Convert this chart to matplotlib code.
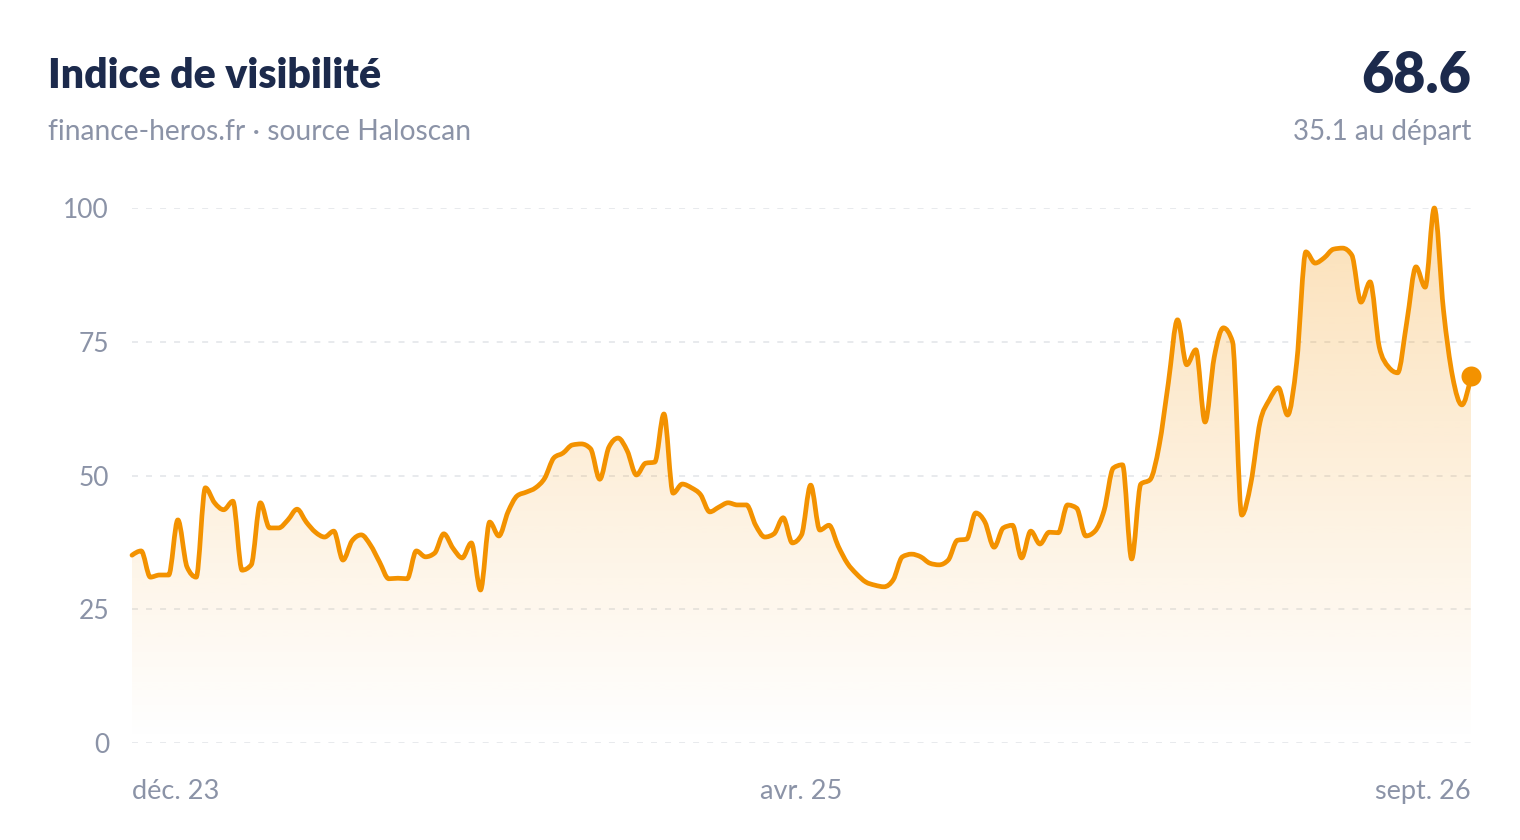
import numpy as np
import pandas as pd
import matplotlib
matplotlib.use("Agg")
import matplotlib.pyplot as plt
import matplotlib.dates as mdates
from matplotlib.path import Path
from matplotlib.patches import PathPatch
from matplotlib.colors import to_rgb

# ── Data: weekly visibility index ────────────────────────────────────────────
start_date = "2023-12-04"
visibility = [
    35.1, 35.9, 31.0, 31.4, 31.4, 41.7, 32.9, 31.0, 47.7, 44.9,
    43.6, 45.2, 32.3, 33.3, 44.9, 40.2, 40.2, 41.7, 43.7, 41.3,
    39.4, 38.5, 39.6, 34.2, 37.8, 38.9, 37.0, 33.8, 30.7, 30.8,
    30.7, 35.9, 34.8, 35.5, 39.1, 36.4, 34.6, 37.4, 28.6, 41.3,
    38.7, 43.2, 46.2, 46.9, 47.7, 49.5, 53.3, 54.2, 55.7, 55.9,
    55.0, 49.3, 55.3, 57.0, 54.6, 50.1, 52.3, 52.5, 61.5, 46.7,
    48.4, 47.7, 46.4, 43.2, 44.1, 44.9, 44.5, 44.5, 40.7, 38.5,
    39.1, 42.1, 37.4, 38.9, 48.2, 39.8, 40.7, 36.8, 33.6, 31.6,
    30.1, 29.5, 29.2, 30.5, 34.8, 35.3, 34.8, 33.6, 33.3, 34.2,
    37.9, 38.1, 43.0, 41.3, 36.6, 40.2, 40.7, 34.6, 39.6, 37.2,
    39.4, 39.3, 44.5, 43.9, 38.7, 39.6, 43.5, 51.4, 52.0, 34.4,
    48.4, 49.2, 55.6, 67.3, 79.1, 70.7, 73.5, 60.0, 72.1, 77.6,
    75.0, 42.6, 48.6, 60.0, 64.1, 66.4, 61.3, 71.2, 91.8, 89.7,
    90.7, 92.3, 92.5, 91.2, 82.4, 86.2, 74.0, 70.3, 69.2, 78.7,
    89.0, 85.2, 100.0, 80.9, 68.4, 63.2, 68.6,
]
y_ticks = [0, 25, 50, 75, 100]
labelled_weeks = [0, 73, 146]   # first, middle and last week get a date label
month_abbr = ["janv.", "févr.", "mars", "avr.", "mai", "juin",
              "juil.", "août", "sept.", "oct.", "nov.", "déc."]

ORANGE = "#F39200"
NAVY = "#1C2A4C"
GREY = "#8B93A7"
GRID = "#E4E6EA"

plt.rcParams["font.family"] = ["Lato", "DejaVu Sans"]
plt.rcParams["lines.scale_dashes"] = False


def monotone_tangents(x, y):
    # same tangents as d3.curveMonotoneX (Steffen), so the curve never overshoots
    h = np.diff(x)
    s = np.diff(y) / h
    t = np.zeros_like(y)
    for i in range(1, len(y) - 1):
        p = (s[i - 1] * h[i] + s[i] * h[i - 1]) / (h[i - 1] + h[i])
        t[i] = (np.sign(s[i - 1]) + np.sign(s[i])) * min(abs(s[i - 1]), abs(s[i]), 0.5 * abs(p))
    t[0] = (3 * s[0] - t[1]) / 2
    t[-1] = (3 * s[-1] - t[-2]) / 2
    return t


def smooth_path(x, y):
    t = monotone_tangents(x, y)
    verts = [(x[0], y[0])]
    codes = [Path.MOVETO]
    for i in range(len(x) - 1):
        dx = (x[i + 1] - x[i]) / 3
        verts += [(x[i] + dx, y[i] + dx * t[i]),
                  (x[i + 1] - dx, y[i + 1] - dx * t[i + 1]),
                  (x[i + 1], y[i + 1])]
        codes += [Path.CURVE4] * 3
    return verts, codes


dates = pd.date_range(start_date, periods=len(visibility), freq="7D")
x = mdates.date2num(dates)
y = np.array(visibility, dtype=float)

fig = plt.figure(figsize=(15.2, 8.4), dpi=100, facecolor="white")
ax = fig.add_axes([132 / 1520, 97 / 840, 1339 / 1520, 535 / 840])

verts, codes = smooth_path(x, y)

# ── Gradient fill under the curve ────────────────────────────────────────────
fill_path = Path(verts + [(x[-1], 0), (x[0], 0), (x[0], 0)],
                 codes + [Path.LINETO, Path.LINETO, Path.CLOSEPOLY])
fill_patch = PathPatch(fill_path, facecolor="none", edgecolor="none")
ax.add_patch(fill_patch)

grad = np.zeros((256, 1, 4))
grad[..., :3] = to_rgb(ORANGE)
grad[..., 3] = np.linspace(0.0, 0.28, 256)[:, None]
im = ax.imshow(grad, extent=[x[0], x[-1], 0, 100], origin="lower",
               aspect="auto", interpolation="bilinear", zorder=1)
im.set_clip_path(fill_patch)

# ── Line and end dot ─────────────────────────────────────────────────────────
line = PathPatch(Path(verts, codes), facecolor="none", edgecolor=ORANGE,
                 lw=3.4, capstyle="round", joinstyle="round", zorder=3, clip_on=False)
ax.add_patch(line)
ax.plot(x[-1], y[-1], "o", ms=14.4, color=ORANGE, mec="none", zorder=4, clip_on=False)

# ── Axes styling ─────────────────────────────────────────────────────────────
ax.set_xlim(x[0], x[-1])
ax.set_ylim(0, 100)
ax.set_yticks(y_ticks)
ax.set_yticklabels([str(v) for v in y_ticks])
ax.grid(axis="y", color=GRID, lw=1.2, linestyle=(0, (4.3, 5.8)))
ax.set_axisbelow(True)
for spine in ax.spines.values():
    spine.set_visible(False)

ax.set_xticks(x[labelled_weeks])
ax.set_xticklabels([f"{month_abbr[dates[i].month - 1]} {dates[i].year % 100:02d}"
                    for i in labelled_weeks])
ax.tick_params(axis="y", length=0, pad=16.5, labelsize=19, labelcolor=GREY)
ax.tick_params(axis="x", length=0, pad=26, labelsize=19.5, labelcolor=GREY)
xlabels = ax.get_xticklabels()
xlabels[0].set_ha("left")
xlabels[-1].set_ha("right")

# ── Header texts ─────────────────────────────────────────────────────────────
fig.text(48 / 1520, 1 - 88 / 840, "Indice de visibilité", fontsize=29.5,
         fontweight="heavy", color=NAVY, va="baseline")
fig.text(48 / 1520, 1 - 140 / 840, "finance-heros.fr · source Haloscan",
         fontsize=20.3, color=GREY, va="baseline")
fig.text(1471 / 1520, 1 - 93 / 840, f"{visibility[-1]:.1f}", fontsize=40,
         fontweight="heavy", color=NAVY, ha="right", va="baseline")
fig.text(1471 / 1520, 1 - 140 / 840, f"{visibility[0]:.1f} au départ",
         fontsize=20, color=GREY, ha="right", va="baseline")

fig.savefig("out.png", dpi=100)
